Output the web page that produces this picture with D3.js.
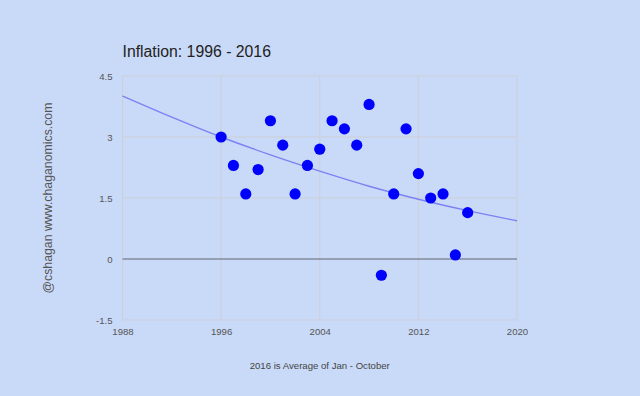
<!DOCTYPE html>
<html>
<head>
<meta charset="utf-8">
<script src="https://cdn.jsdelivr.net/npm/d3@7"></script>
<style>
  html, body { margin: 0; padding: 0; background: #c9daf8; }
  svg { display: block; font-family: Arial, "Liberation Sans", sans-serif; }
</style>
</head>
<body>
<svg id="chart" width="640" height="396"></svg>
<script>
// Data
const years = [1996, 1997, 1998, 1999, 2000, 2001, 2002, 2003, 2004, 2005, 2006,
               2007, 2008, 2009, 2010, 2011, 2012, 2013, 2014, 2015, 2016];
const inflation = [3.0, 2.3, 1.6, 2.2, 3.4, 2.8, 1.6, 2.3, 2.7, 3.4, 3.2,
                   2.8, 3.8, -0.4, 1.6, 3.2, 2.1, 1.5, 1.6, 0.1, 1.14];
const trendYears = [1988, 1992, 1996, 2000, 2004, 2008, 2012, 2016, 2020];
const trendValues = [4.01, 3.49, 3.00, 2.56, 2.16, 1.79, 1.47, 1.19, 0.94];
const xTicks = [1988, 1996, 2004, 2012, 2020];
const yTicks = [-1.5, 0, 1.5, 3, 4.5];
const titleText = "Inflation: 1996 - 2016";
const xTitle = "2016 is Average of Jan - October";
const yTitle = "@cshagan www.chaganomics.com";

(function () {
const svg = d3.select("#chart");
const pLeft = 122.5, pRight = 517, pTop = 76, pBottom = 320;

const x = d3.scaleLinear().domain([1988, 2020]).range([pLeft, pRight]);
const y = d3.scaleLinear().domain([-1.5, 4.5]).range([pBottom, pTop]);

svg.append("rect").attr("width", 640).attr("height", 396).attr("fill", "#c9daf8");

// Gridlines
const grid = svg.append("g");
grid.selectAll("line.gx").data(xTicks).join("line")
  .attr("x1", d => x(d)).attr("x2", d => x(d))
  .attr("y1", pTop).attr("y2", pBottom)
  .attr("stroke", "#cdcfd6").attr("stroke-width", 1);
grid.selectAll("line.gy").data(yTicks.filter(d => d !== 0)).join("line")
  .attr("x1", pLeft).attr("x2", pRight)
  .attr("y1", d => y(d)).attr("y2", d => y(d))
  .attr("stroke", "#cdcfd6").attr("stroke-width", 1);

// Zero baseline
svg.append("line")
  .attr("x1", pLeft).attr("x2", pRight)
  .attr("y1", y(0)).attr("y2", y(0))
  .attr("stroke", "#5f6270").attr("stroke-width", 1);

// Axes (labels only)
const xAxis = d3.axisBottom(x).tickValues(xTicks).tickFormat(d3.format("d")).tickSize(0).tickPadding(0);
const gx = svg.append("g").attr("transform", `translate(0,${pBottom + 8})`).call(xAxis);
gx.select(".domain").remove();
gx.selectAll("text").attr("fill", "#555").attr("font-size", "9.6px").attr("dy", "0.71em")
  .attr("font-family", "Arial, 'Liberation Sans', sans-serif");

const yAxis = d3.axisLeft(y).tickValues(yTicks).tickFormat(d => String(d)).tickSize(0).tickPadding(0);
const gy = svg.append("g").attr("transform", `translate(${pLeft - 10},0)`).call(yAxis);
gy.select(".domain").remove();
gy.selectAll("text").attr("fill", "#555").attr("font-size", "9.6px")
  .attr("font-family", "Arial, 'Liberation Sans', sans-serif");

// Trendline
const line = d3.line().x((d, i) => x(trendYears[i])).y(d => y(d)).curve(d3.curveMonotoneX);
svg.append("path").datum(trendValues)
  .attr("d", line).attr("fill", "none")
  .attr("stroke", "#7a82f4").attr("stroke-width", 1.4);

// Points
svg.append("g").selectAll("circle").data(inflation).join("circle")
  .attr("cx", (d, i) => x(years[i])).attr("cy", d => y(d))
  .attr("r", 5.6).attr("fill", "#0000ff");

// Title
svg.append("text").attr("x", pLeft).attr("y", 57)
  .attr("font-size", "15.8px").attr("fill", "#222").text(titleText);

// X axis title
svg.append("text").attr("x", (pLeft + pRight) / 2).attr("y", 369)
  .attr("text-anchor", "middle").attr("font-size", "9.6px").attr("fill", "#444").text(xTitle);

// Y axis title
svg.append("text")
  .attr("transform", `translate(52,${(pTop + pBottom) / 2}) rotate(-90)`)
  .attr("text-anchor", "middle").attr("font-size", "12.3px").attr("fill", "#555").text(yTitle);
})();
</script>
</body>
</html>
